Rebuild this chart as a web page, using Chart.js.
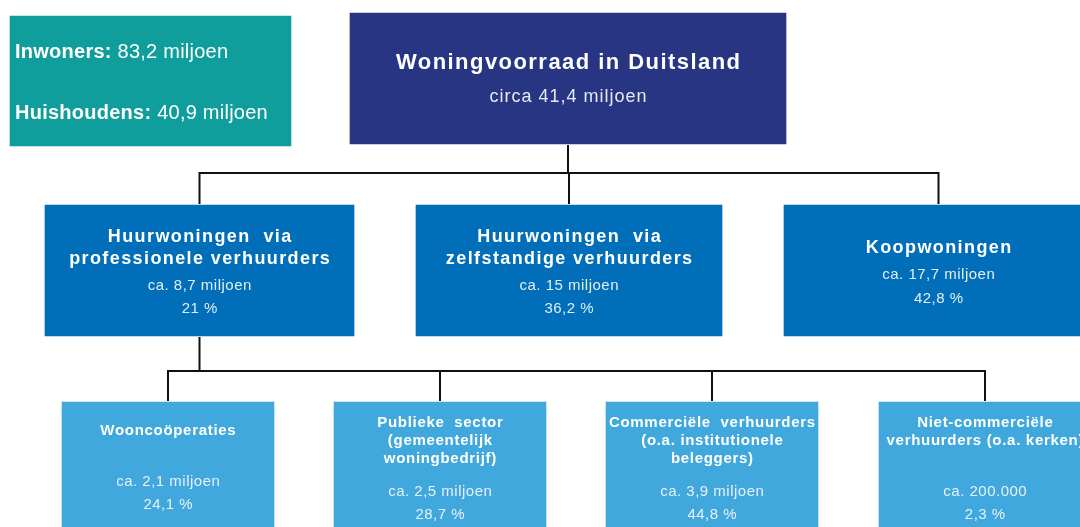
<!DOCTYPE html>
<html>
<head>
<meta charset="utf-8">
<script src="https://cdn.jsdelivr.net/npm/chart.js@4/dist/chart.umd.min.js"></script>
<style>
html,body{margin:0;padding:0;background:#fff;}
#wrap{width:1080px;height:527px;position:relative;}
</style>
</head>
<body>
<div id="wrap"><canvas id="c" width="1080" height="527"></canvas></div>
<script>
// ---- DATA ----
const nodeNames = [
  'Woningvoorraad in Duitsland',
  'Huurwoningen  via\nprofessionele verhuurders',
  'Huurwoningen  via\nzelfstandige verhuurders',
  'Koopwoningen',
  'Wooncoöperaties',
  'Publieke  sector\n(gemeentelijk\nwoningbedrijf)',
  'Commerciële  verhuurders\n(o.a. institutionele\nbeleggers)',
  'Niet-commerciële\nverhuurders (o.a. kerken)'
];
const nodeMillions = [41.4, 8.7, 15, 17.7, 2.1, 2.5, 3.9, 0.2];
const nodeShares = [null, 21, 36.2, 42.8, 24.1, 28.7, 44.8, 2.3];
const nodeParent = [-1, 0, 0, 0, 1, 1, 1, 1];
const statLabels = ['Inwoners:', 'Huishoudens:'];
const statMillions = [83.2, 40.9];

// ---- LAYOUT / STYLE (kept apart from data) ----
const F = '"Liberation Sans", Arial, sans-serif';
const L1 = {tf:'bold 22px '+F, ts:'1.45px', bf:'18px '+F, bs:'1px'};
const L2 = {tf:'bold 18px '+F, ts:'1.4px', bf:'15px '+F, bs:'0.5px'};
const L3 = {tf:'bold 15px '+F, ts:'0.7px', bf:'15px '+F, bs:'0.5px'};
const layout = [
  Object.assign({x0:349, x1:787, y0:12,  y1:145, tY:61,  lh:0,  cY:95,  sY:null, col:'#283583'}, L1),
  Object.assign({x0:44,  x1:355, y0:204, y1:337, tY:235, lh:22, cY:284, sY:307, col:'#006EB9'}, L2),
  Object.assign({x0:415, x1:723, y0:204, y1:337, tY:235, lh:22, cY:284, sY:307, col:'#006EB9'}, L2),
  Object.assign({x0:783, x1:1094,y0:204, y1:337, tY:246, lh:22, cY:273, sY:297, col:'#006EB9'}, L2),
  Object.assign({x0:61,  x1:275, y0:401, y1:540, tY:429, lh:18, cY:480, sY:503, col:'#41A8DE'}, L3),
  Object.assign({x0:333, x1:547, y0:401, y1:540, tY:421, lh:18, cY:490, sY:513, col:'#41A8DE'}, L3),
  Object.assign({x0:605, x1:819, y0:401, y1:540, tY:421, lh:18, cY:490, sY:513, col:'#41A8DE'}, L3),
  Object.assign({x0:878, x1:1092,y0:401, y1:540, tY:421, lh:18, cY:490, sY:513, col:'#41A8DE'}, L3)
];
const statBox = {x0:9, x1:292, y0:15, y1:147, tx:15, ys:[50,111], font:'20px '+F, sp:'0.25px', col:'#109E9C'};
const busY = {0:173, 1:371};
const textShift = 2;

// ---- helpers ----
function nl(n){ return String(n).replace('.', ','); }
function countText(i){
  const m = nodeMillions[i];
  if (i === 0) return 'circa ' + nl(m) + ' miljoen';
  if (m < 1) return 'ca. ' + String(Math.round(m*1e6)).replace(/\B(?=(\d{3})+(?!\d))/g, '.');
  return 'ca. ' + nl(m) + ' miljoen';
}
function shareText(i){ return nodeShares[i] == null ? '' : nl(nodeShares[i]) + ' %'; }

// ---- datasets ----
const datasets = [];
function boxDataset(b, col){
  return {
    type:'bar',
    data:[{x:(b.x0+b.x1)/2, y:[b.y0, b.y1]}],
    barThickness: b.x1 - b.x0,
    backgroundColor: col,
    borderColor: 'rgba(255,255,255,0.35)',
    borderWidth: 1,
    borderSkipped: false,
    grouped: false,
    order: 1
  };
}
datasets.push(boxDataset(statBox, statBox.col));
layout.forEach((b,i)=>datasets.push(boxDataset(b, b.col)));

// connectors, derived from parent/child layout
const parents = [...new Set(nodeParent.filter(p=>p>=0))];
parents.forEach(p=>{
  const pb = layout[p];
  const pcx = (pb.x0+pb.x1)/2;
  const kids = nodeParent.map((q,i)=>q===p?i:-1).filter(i=>i>=0);
  const by = busY[p];
  const lineStyle = {type:'line', borderColor:'#111', borderWidth:2, pointRadius:0, fill:false, tension:0, order:2};
  datasets.push(Object.assign({data:[{x:pcx,y:pb.y1},{x:pcx,y:by}]}, lineStyle));
  const cx = kids.map(k=>(layout[k].x0+layout[k].x1)/2);
  const first = kids[0], last = kids[kids.length-1];
  datasets.push(Object.assign({data:[
    {x:cx[0],y:layout[first].y0},{x:cx[0],y:by},
    {x:cx[cx.length-1],y:by},{x:cx[cx.length-1],y:layout[last].y0}]}, lineStyle));
  kids.slice(1,-1).forEach((k,j)=>{
    const x = cx[j+1];
    datasets.push(Object.assign({data:[{x:x,y:by},{x:x,y:layout[k].y0}]}, lineStyle));
  });
});

function centered(ctx, txt, x, y, sp){
  ctx.letterSpacing = sp;
  const w = ctx.measureText(txt).width;
  const extra = parseFloat(sp) || 0;
  ctx.textAlign = 'left';
  ctx.fillText(txt, x - (w - extra)/2, y);
}

const textPlugin = {
  id:'orgText',
  afterDatasetsDraw(chart){
    const ctx = chart.ctx, xs = chart.scales.x, ys = chart.scales.y;
    ctx.save();
    ctx.textBaseline = 'middle';
    // stats box
    statLabels.forEach((lab,i)=>{
      const x = xs.getPixelForValue(statBox.tx), y = ys.getPixelForValue(statBox.ys[i] + textShift);
      ctx.textAlign = 'left';
      ctx.letterSpacing = statBox.sp;
      ctx.fillStyle = '#fff';
      ctx.font = 'bold ' + statBox.font;
      ctx.fillText(lab, x, y);
      const w = ctx.measureText(lab + ' ').width;
      ctx.font = statBox.font;
      ctx.fillText(nl(statMillions[i]) + ' miljoen', x + w, y);
    });
    // nodes
    nodeNames.forEach((name,i)=>{
      const b = layout[i];
      const cx = xs.getPixelForValue((b.x0+b.x1)/2);
      ctx.fillStyle = '#fff';
      ctx.font = b.tf;
      name.split('\n').forEach((ln,k)=>{
        centered(ctx, ln, cx, ys.getPixelForValue(b.tY + k*b.lh + textShift), b.ts);
      });
      ctx.fillStyle = 'rgba(238,244,252,0.95)';
      ctx.font = b.bf;
      centered(ctx, countText(i), cx, ys.getPixelForValue(b.cY + textShift), b.bs);
      if (b.sY != null) centered(ctx, shareText(i), cx, ys.getPixelForValue(b.sY + textShift), b.bs);
    });
    ctx.restore();
  }
};

new Chart(document.getElementById('c'), {
  type:'bar',
  data:{datasets},
  options:{
    responsive:false,
    devicePixelRatio:1,
    animation:false,
    layout:{padding:0},
    plugins:{legend:{display:false}, tooltip:{enabled:false}},
    scales:{
      x:{type:'linear', min:0, max:1080, display:false, offset:false, grid:{display:false}},
      y:{type:'linear', min:0, max:527, reverse:true, display:false, grid:{display:false}}
    }
  },
  plugins:[textPlugin]
});
</script>
</body>
</html>
